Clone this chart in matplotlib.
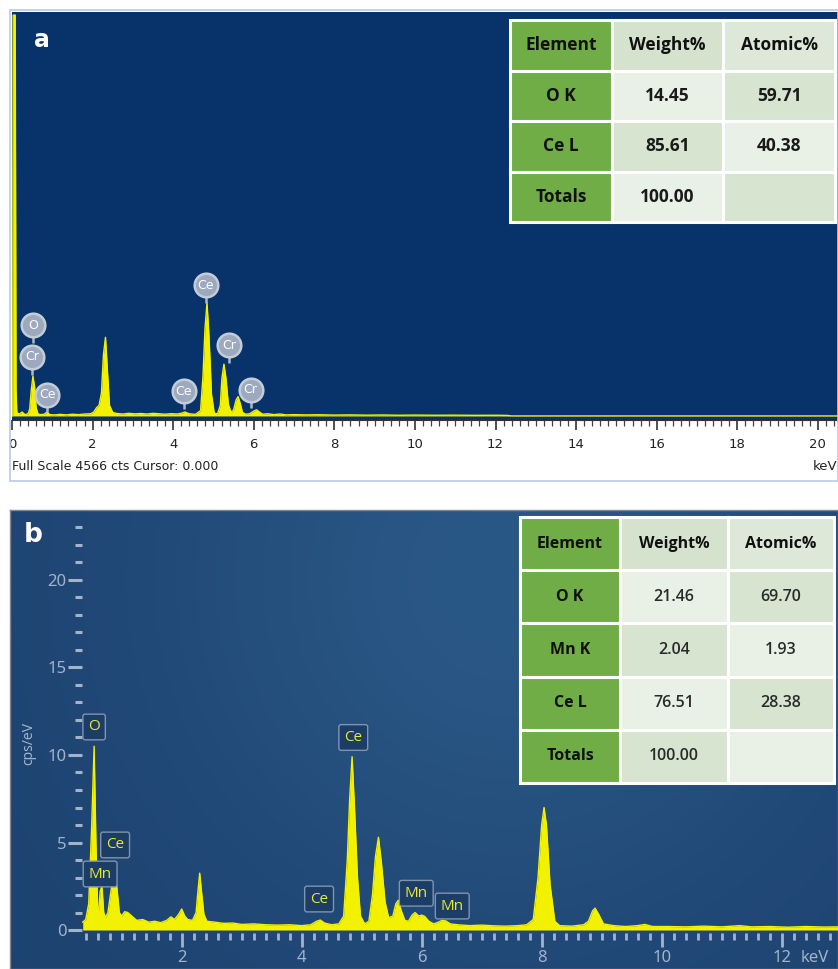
import numpy as np
import matplotlib
matplotlib.use('Agg')
from matplotlib import pyplot as plt
from matplotlib.patches import Rectangle

W, H = 838, 969

# ---- spectrum a : counts vs keV ----
a_energy = [0.00, 0.02, 0.03, 0.06, 0.08, 0.10, 0.12, 0.18, 0.25, 0.32, 0.40, 0.44, 0.48, 0.52,
            0.56, 0.60, 0.65, 0.72, 0.80, 0.87, 0.94, 1.05, 1.20, 1.35, 1.50, 1.65,
            1.80, 1.95, 2.03, 2.10, 2.16, 2.22, 2.27, 2.32, 2.37, 2.42, 2.50, 2.60,
            2.75, 2.90, 3.05, 3.20, 3.35, 3.50, 3.65, 3.80, 3.95, 4.10, 4.20, 4.29,
            4.40, 4.55, 4.68, 4.74, 4.79, 4.84, 4.89, 4.95, 5.02, 5.10, 5.17, 5.21,
            5.26, 5.31, 5.37, 5.44, 5.50, 5.56, 5.61, 5.66, 5.72, 5.80, 5.90, 6.00,
            6.07, 6.14, 6.22, 6.35, 6.50, 6.65, 6.80, 7.00, 7.30, 7.60, 8.00, 8.40,
            8.80, 9.20, 9.60, 10.0, 10.5, 11.0, 11.5, 12.0, 12.3, 12.4, 20.6]
a_counts = [0, 0, 4566, 4566, 4566, 300, 40, 20, 45, 15, 25, 80, 300, 455,
            330, 90, 20, 15, 20, 45, 15, 12, 18, 12, 20, 15,
            22, 25, 45, 95, 120, 260, 700, 896, 500, 120, 40, 28,
            22, 30, 24, 28, 22, 30, 25, 20, 26, 22, 30, 45,
            25, 18, 60, 450, 1000, 1290, 900, 250, 30, 25, 120, 430,
            590, 430, 130, 40, 70, 180, 220, 150, 40, 20, 25, 55,
            70, 45, 20, 25, 15, 22, 12, 15, 12, 14, 10, 12,
            9, 11, 8, 10, 8, 9, 7, 8, 6, 0, 0]
a_full_scale = 4566

a_labels = ['O', 'Cr', 'Ce', 'Ce', 'Ce', 'Cr', 'Cr']
a_label_kev = [0.53, 0.49, 0.87, 4.26, 4.81, 5.38, 5.92]
a_label_cts = [1036, 672, 243, 281, 1489, 805, 296]

a_table = [['Element', 'Weight%', 'Atomic%'],
           ['O K', '14.45', '59.71'],
           ['Ce L', '85.61', '40.38'],
           ['Totals', '100.00', '']]

# ---- spectrum b : cps/eV vs keV ----
b_energy = [0.35, 0.40, 0.45, 0.50, 0.54, 0.57, 0.60, 0.62, 0.64, 0.67, 0.70, 0.73,
            0.77, 0.82, 0.86, 0.89, 0.92, 0.96, 1.00, 1.05, 1.10, 1.15, 1.20, 1.25,
            1.35, 1.45, 1.55, 1.65, 1.75, 1.82, 1.88, 1.95, 2.00, 2.05, 2.10, 2.18,
            2.24, 2.27, 2.30, 2.33, 2.37, 2.42, 2.55, 2.70, 2.85, 3.00, 3.20, 3.40,
            3.60, 3.80, 4.00, 4.15, 4.25, 4.31, 4.38, 4.50, 4.62, 4.70, 4.76, 4.80,
            4.84, 4.88, 4.93, 4.98, 5.05, 5.12, 5.18, 5.23, 5.28, 5.33, 5.39, 5.45,
            5.52, 5.57, 5.61, 5.66, 5.72, 5.78, 5.84, 5.89, 5.95, 6.00, 6.05, 6.12,
            6.20, 6.28, 6.34, 6.40, 6.48, 6.60, 6.80, 7.00, 7.20, 7.40, 7.60, 7.75,
            7.86, 7.94, 8.00, 8.04, 8.08, 8.14, 8.22, 8.30, 8.50, 8.70, 8.78, 8.85,
            8.89, 8.95, 9.03, 9.20, 9.40, 9.60, 9.72, 9.85, 10.1, 10.4, 10.7, 11.0,
            11.3, 11.5, 11.8, 12.1, 12.4, 12.7, 12.95]
b_cps = [0.45, 0.6, 1.5, 6.0, 10.5, 5.0, 1.0, 1.2, 2.2, 2.5, 1.0, 0.7,
         1.0, 2.2, 3.1, 3.2, 2.4, 1.0, 0.8, 1.05, 1.0, 0.85, 0.7, 0.55,
         0.6, 0.45, 0.5, 0.42, 0.55, 0.75, 0.6, 0.9, 1.2, 0.8, 0.6, 0.55,
         1.0, 2.2, 3.25, 2.2, 0.9, 0.5, 0.45, 0.38, 0.4, 0.32, 0.35, 0.3,
         0.28, 0.3, 0.25, 0.3, 0.5, 0.57, 0.4, 0.3, 0.35, 0.8, 4.0, 7.5,
         9.9, 7.0, 3.0, 0.8, 0.35, 0.5, 2.0, 4.2, 5.3, 3.8, 1.6, 0.7,
         0.8, 1.5, 1.7, 1.1, 0.55, 0.5, 0.85, 1.0, 0.8, 0.85, 0.78, 0.5,
         0.35, 0.45, 0.55, 0.52, 0.35, 0.3, 0.25, 0.28, 0.24, 0.22, 0.25, 0.3,
         0.6, 3.0, 6.0, 7.0, 6.0, 2.6, 0.5, 0.25, 0.22, 0.3, 0.5, 1.1,
         1.25, 0.9, 0.35, 0.25, 0.2, 0.25, 0.32, 0.2, 0.2, 0.18, 0.22, 0.18,
         0.25, 0.18, 0.2, 0.16, 0.2, 0.17, 0.18]

b_labels = ['O', 'Mn', 'Ce', 'Ce', 'Ce', 'Mn', 'Mn']
b_label_kev = [0.54, 0.64, 0.89, 4.29, 4.86, 5.91, 6.51]
b_label_cps = [11.6, 3.2, 4.86, 1.77, 11.0, 2.1, 1.37]

b_table = [['Element', 'Weight%', 'Atomic%'],
           ['O K', '21.46', '69.70'],
           ['Mn K', '2.04', '1.93'],
           ['Ce L', '76.51', '28.38'],
           ['Totals', '100.00', '']]

YELLOW = '#F2F200'
NAVY = '#07336A'
NARROW = ['Liberation Sans Narrow', 'DejaVu Sans']
TBL_FONT = ['Open Sans', 'DejaVu Sans']


def px(x0, y0, x1, y1):
    return [x0 / W, 1 - y1 / H, (x1 - x0) / W, (y1 - y0) / H]


def draw_table(ax, rows, col_w, fsize, value_weight):
    ax.axis('off')
    light = ['#D7E4D0', '#E9F0E5']
    colours = []
    for i, r in enumerate(rows):
        if i == 0:
            colours.append(['#70AD47', '#D5E2CE', '#DDE8D8'])
        else:
            colours.append(['#70AD47', light[i % 2], light[(i + 1) % 2]])
    tbl = ax.table(cellText=rows, cellColours=colours, colWidths=col_w,
                   cellLoc='center', bbox=[0, 0, 1, 1])
    tbl.auto_set_font_size(False)
    for (r, c), cell in tbl.get_celld().items():
        cell.set_edgecolor('white')
        cell.set_linewidth(2.2)
        t = cell.get_text()
        t.set_fontsize(fsize)
        t.set_family(TBL_FONT)
        if r == 0 or c == 0:
            t.set_fontweight('bold')
            t.set_color('#111111')
        else:
            t.set_fontweight(value_weight)
            t.set_color('#1A1A1A' if value_weight == 'bold' else '#2A2A2A')
    return tbl


fig = plt.figure(figsize=(W / 100, H / 100), dpi=100)
fig.patch.set_facecolor('white')

# ================= panel a =================
fig.patches.append(Rectangle((10 / W, 1 - 481 / H), 828 / W, 471 / H, transform=fig.transFigure,
                             fill=False, ec='#B9CCE0', lw=1.2))

ax_a = fig.add_axes(px(12, 12, 838, 420))
ax_a.set_facecolor(NAVY)
ax_a.fill_between(a_energy, a_counts, 0, color=YELLOW, lw=0)
ax_a.plot(a_energy, a_counts, color=YELLOW, lw=1.0)
ax_a.set_xlim(0.012, 20.5)
ax_a.set_ylim(-46, a_full_scale + 35)
ax_a.set_yticks([])
ax_a.set_xticks(np.arange(0, 21, 2))
ax_a.set_xticks(np.arange(0, 20.6, 0.2), minor=True)
ax_a.tick_params(axis='x', which='major', length=7, width=1.2, color='#333333',
                 labelsize=9.5, labelcolor='#222222', pad=6)
ax_a.tick_params(axis='x', which='minor', length=4, width=0.9, color='#444444')
for lab in ax_a.get_xticklabels():
    lab.set_family(NARROW)
for s in ['top', 'left', 'right']:
    ax_a.spines[s].set_visible(False)
ax_a.spines['bottom'].set_color('#333333')

# element badges
for name, kev, cts in zip(a_labels, a_label_kev, a_label_cts):
    ax_a.vlines(kev, cts - 120, cts - 200, color='#AEB8C8', lw=1.8, zorder=3)
    ax_a.plot(kev, cts, 'o', ms=17, mfc='#9DA9BE', mec='#C4CCD8', mew=1.8, zorder=4)
    ax_a.text(kev, cts, name, ha='center', va='center', color='white', fontsize=9,
              family=NARROW, zorder=5)

ax_a.text(30 / 826, 1 - 28 / 408, 'a', transform=ax_a.transAxes, color='white',
          fontsize=17, fontweight='bold', ha='center', va='center')

fig.text(12 / W, 1 - 467 / H, 'Full Scale 4566 cts Cursor: 0.000', ha='left', va='center',
         fontsize=9, color='#222222', family=NARROW)
fig.text(837 / W, 1 - 467 / H, 'keV', ha='right', va='center', fontsize=9.5,
         color='#222222', family=NARROW)

ax_ta = fig.add_axes(px(510, 20, 835, 222))
draw_table(ax_ta, a_table, [102, 111, 112], 12.5, 'bold')

# ================= panel b =================
ax_bg = fig.add_axes(px(10, 510, 838, 969))
ax_bg.set_xticks([])
ax_bg.set_yticks([])
gx, gy = np.meshgrid(np.linspace(0, 1, 300), np.linspace(0, 1, 200))
glow = np.exp(-((gx - 0.6) ** 2 / 0.18 + (gy - 0.15) ** 2 / 0.6))
c_dark = np.array([0x1D, 0x42, 0x70]) / 255
c_light = np.array([0x2A, 0x58, 0x86]) / 255
grad = c_dark + glow[..., None] * (c_light - c_dark)
ax_bg.imshow(grad, extent=[0, 1, 0, 1], aspect='auto', origin='upper')
for s in ax_bg.spines.values():
    s.set_color('#7D8894')
    s.set_linewidth(1)

TICK_C = '#A3B4C9'
SANS = ['Noto Sans', 'DejaVu Sans']
ax_b = fig.add_axes(px(82, 511, 838, 933))
ax_b.patch.set_alpha(0)
ax_b.fill_between(b_energy, b_cps, 0, color=YELLOW, lw=0)
ax_b.plot(b_energy, b_cps, color=YELLOW, lw=1.0)
ax_b.set_xlim(0.338, 12.94)
ax_b.set_ylim(-0.17, 23.94)
ax_b.set_xticks(np.arange(2, 13, 2))
ax_b.set_xticks(np.arange(0.4, 12.95, 0.2), minor=True)
ax_b.set_yticks(np.arange(0, 21, 5))
ax_b.set_yticks(np.arange(0, 24, 1), minor=True)
ax_b.tick_params(axis='x', which='major', length=10, width=2, color=TICK_C,
                 labelsize=12, labelcolor=TICK_C, pad=2)
ax_b.tick_params(axis='x', which='minor', length=5, width=2, color=TICK_C)
ax_b.tick_params(axis='y', which='major', length=10, width=2.2, color=TICK_C,
                 labelsize=12, labelcolor=TICK_C, pad=1)
ax_b.tick_params(axis='y', which='minor', length=5, width=2.2, color=TICK_C)
for s in ax_b.spines.values():
    s.set_visible(False)
for lab in ax_b.get_xticklabels() + ax_b.get_yticklabels():
    lab.set_family(SANS)
ax_b.set_ylabel('cps/eV', color=TICK_C, fontsize=10, family=SANS)
ax_b.yaxis.set_label_coords(-0.06, 0.45)

for name, kev, cps in zip(b_labels, b_label_kev, b_label_cps):
    ax_b.text(kev, cps, name, ha='center', va='center', color='#E8E83A', fontsize=11,
              family=['Open Sans', 'DejaVu Sans'], zorder=5,
              bbox=dict(boxstyle='round,pad=0.35,rounding_size=0.15', fc='#1B3D66',
                        ec='#8094AE', lw=1))

fig.text(815 / W, 1 - 958 / H, 'keV', ha='center', va='center', fontsize=12,
         color=TICK_C, family=SANS)
fig.text(33 / W, 1 - 535 / H, 'b', ha='center', va='center', fontsize=19,
         fontweight='bold', color='white')

ax_tb = fig.add_axes(px(520, 517, 834, 783))
draw_table(ax_tb, b_table, [100, 108, 106], 11.5, 'semibold')

fig.savefig('out.png', dpi=100, facecolor='white')
